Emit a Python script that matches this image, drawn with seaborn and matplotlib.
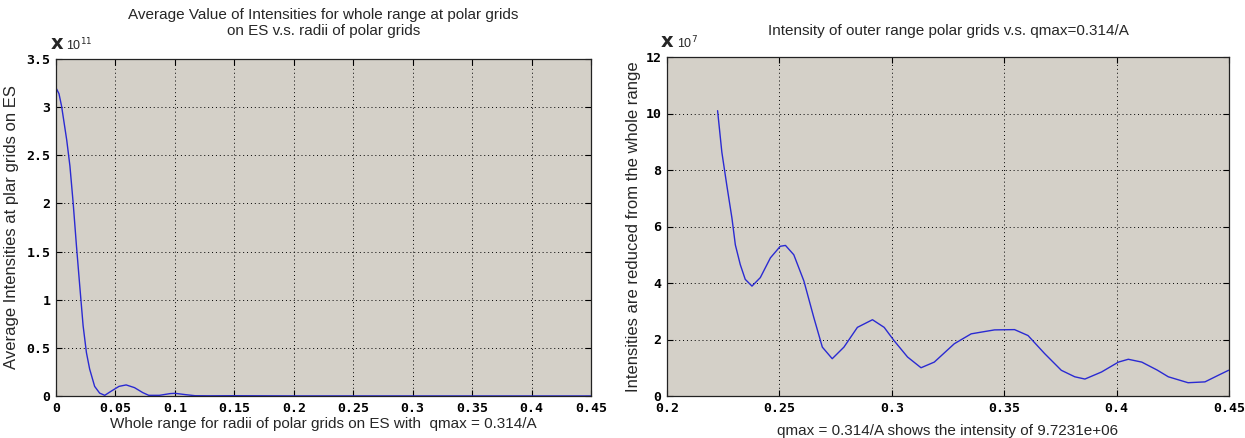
import numpy as np
import pandas as pd
import matplotlib
matplotlib.use("Agg")
import matplotlib.pyplot as plt
import seaborn as sns

# ---------------- data ----------------
# Left panel: radius (1/A) vs average intensity (x 1e11)
left_x = [0.0, 0.0025, 0.0047, 0.009, 0.0117, 0.0144, 0.0172, 0.020, 0.0228, 0.0256,
          0.0283, 0.0325, 0.0367, 0.041, 0.0464, 0.053, 0.059, 0.066, 0.073,
          0.078, 0.087, 0.096, 0.100, 0.109, 0.117, 0.13, 0.15, 0.2, 0.25,
          0.3, 0.35, 0.4, 0.45]
left_y = [3.20, 3.14, 3.01, 2.66, 2.39, 2.01, 1.56, 1.14, 0.73, 0.45,
          0.28, 0.10, 0.03, 0.007, 0.05, 0.10, 0.115, 0.087, 0.035,
          0.007, 0.007, 0.025, 0.028, 0.014, 0.003, 0.002, 0.003, 0.001, 0.001,
          0.0008, 0.0006, 0.0005, 0.0005]

# Right panel: radius (1/A) vs outer-range intensity (x 1e7)
right_x = [0.2225, 0.2244, 0.2266, 0.2289, 0.2304, 0.2326, 0.2348, 0.2378,
           0.2415, 0.2460, 0.2504, 0.2527, 0.2564, 0.2609, 0.2653, 0.2691,
           0.2735, 0.2787, 0.2847, 0.2914, 0.2966, 0.3010, 0.3070, 0.3130,
           0.3189, 0.3278, 0.3353, 0.3397, 0.3457, 0.3546, 0.3606, 0.3680,
           0.3754, 0.3814, 0.3859, 0.3933, 0.4008, 0.4052, 0.4112, 0.4180,
           0.4230, 0.4318, 0.4393, 0.4454, 0.4498]
right_y = [10.1, 8.63, 7.46, 6.29, 5.35, 4.65, 4.13, 3.89,
           4.19, 4.89, 5.30, 5.33, 5.00, 4.07, 2.78, 1.73,
           1.32, 1.73, 2.43, 2.70, 2.43, 1.96, 1.38, 1.00,
           1.20, 1.85, 2.20, 2.26, 2.34, 2.35, 2.14, 1.50,
           0.91, 0.68, 0.60, 0.85, 1.20, 1.30, 1.20, 0.92,
           0.68, 0.47, 0.50, 0.74, 0.91]

left_xticks = [0, 0.05, 0.1, 0.15, 0.2, 0.25, 0.3, 0.35, 0.4, 0.45]
left_xticklabels = ["0", "0.05", "0.1", "0.15", "0.2", "0.25", "0.3", "0.35", "0.4", "0.45"]
left_yticks = [0, 0.5, 1, 1.5, 2, 2.5, 3, 3.5]
left_yticklabels = ["0", "0.5", "1", "1.5", "2", "2.5", "3", "3.5"]
right_xticks = [0.2, 0.25, 0.3, 0.35, 0.4, 0.45]
right_xticklabels = ["0.2", "0.25", "0.3", "0.35", "0.4", "0.45"]
right_yticks = [0, 2, 4, 6, 8, 10, 12]
right_yticklabels = ["0", "2", "4", "6", "8", "10", "12"]

left_title = "Average Value of Intensities for whole range at polar grids\non ES v.s. radii of polar grids"
left_xlabel = "Whole range for radii of polar grids on ES with  qmax = 0.314/A"
left_ylabel = "Average Intensities at plar grids on ES"
left_exp = "11"
right_title = "Intensity of outer range polar grids v.s. qmax=0.314/A"
right_xlabel = "qmax = 0.314/A shows the intensity of 9.7231e+06"
right_ylabel = "Intensities are reduced from the whole range"
right_exp = "7"

# ---------------- style ----------------
sns.set_theme(style="ticks")
plt.rcParams["font.family"] = ["Liberation Sans", "DejaVu Sans"]

BG = "#d4d0c8"
LINE = "#2a2ad2"

fig = plt.figure(figsize=(12.45, 4.38), dpi=100)
fig.patch.set_facecolor("white")
axL = fig.add_axes([56 / 1245, 1 - 396 / 438, (591 - 56) / 1245, (396 - 59) / 438])
axR = fig.add_axes([667 / 1245, 1 - 396 / 438, (1229 - 667) / 1245, (396 - 57) / 438])

dfL = pd.DataFrame({"x": left_x, "y": left_y})
dfR = pd.DataFrame({"x": right_x, "y": right_y})

sns.lineplot(data=dfL, x="x", y="y", ax=axL, color=LINE, lw=1.0,
             estimator=None, sort=False)
sns.lineplot(data=dfR, x="x", y="y", ax=axR, color=LINE, lw=1.0,
             estimator=None, sort=False)


def style_axes(ax, xlim, ylim, xt, xtl, yt, ytl, title, xlabel, ylabel, exp,
               title_pad, xpad, ypad):
    ax.set_facecolor(BG)
    ax.set_xlim(*xlim)
    ax.set_ylim(*ylim)
    ax.set_xticks(xt)
    ax.set_xticklabels(xtl)
    ax.set_yticks(yt)
    ax.set_yticklabels(ytl)
    for lab in ax.get_xticklabels() + ax.get_yticklabels():
        lab.set_fontfamily("DejaVu Sans Mono")
        lab.set_fontweight("bold")
        lab.set_fontsize(9.5)
    ax.tick_params(direction="in", length=4, width=0.8, top=True, right=True,
                   colors="black", pad=4)
    ax.grid(True, color="black", linestyle=(0, (1, 3)), linewidth=0.7)
    for s in ax.spines.values():
        s.set_visible(True)
        s.set_color("#222222")
        s.set_linewidth(0.9)
    ax.set_title(title, fontsize=11, pad=title_pad, linespacing=1.2)
    ax.set_xlabel(xlabel, fontsize=11, labelpad=xpad)
    ax.set_ylabel(ylabel, fontsize=12, labelpad=ypad)
    ax.text(-0.012, 1.018, r"$\mathbf{x}$", transform=ax.transAxes,
            fontsize=14, ha="left", va="bottom")
    ax.text(0.018, 1.018, r"10$^{%s}$" % exp, transform=ax.transAxes,
            fontsize=9, ha="left", va="bottom")


style_axes(axL, (0, 0.45), (0, 3.5), left_xticks, left_xticklabels,
           left_yticks, left_yticklabels, left_title, left_xlabel,
           left_ylabel, left_exp, 17, 2, 5)
style_axes(axR, (0.2, 0.45), (0, 12), right_xticks, right_xticklabels,
           right_yticks, right_yticklabels, right_title, right_xlabel,
           right_ylabel, right_exp, 16, 7, 3)

fig.savefig("out.png", dpi=100)
